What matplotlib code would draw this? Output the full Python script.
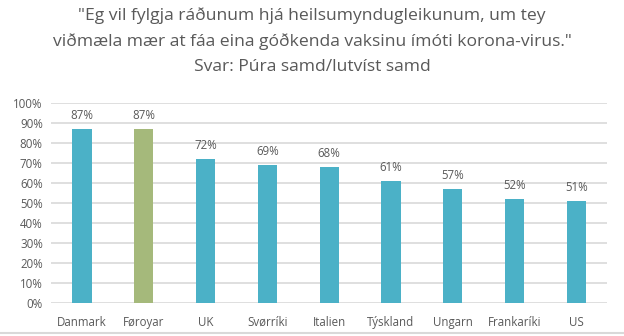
import matplotlib.pyplot as plt
import numpy as np

# Survey shares, "strongly agree / somewhat agree"
countries = ['Danmark', 'Føroyar', 'UK', 'Svørríki', 'Italien', 'Týskland', 'Ungarn', 'Frankaríki', 'US']
shares = [87, 87, 72, 69, 68, 61, 57, 52, 51]
highlight = 'Føroyar'

blue = '#4BB1C7'
green = '#A5B97B'
grey_text = '#595959'

plt.rcParams['font.family'] = ['Open Sans', 'DejaVu Sans']

fig = plt.figure(figsize=(6.24, 3.36), dpi=100)
ax = fig.add_axes([0.082, 0.098, 0.891, 0.595])

x = np.arange(len(countries))
colors = [green if c == highlight else blue for c in countries]
ax.bar(x, shares, width=0.31, color=colors, zorder=3)

for xi, v in zip(x, shares):
    ax.annotate(f'{v}%', (xi, v), xytext=(0, 5), textcoords='offset points',
                ha='center', va='bottom', fontsize=8.3, color=grey_text)

ax.set_xlim(-0.5, len(countries) - 0.5)
ax.set_ylim(0, 100)
ax.set_yticks(range(0, 101, 10))
ax.set_yticklabels([f'{t}%' for t in range(0, 101, 10)])
ax.set_xticks(x)
ax.set_xticklabels(countries)
ax.tick_params(axis='both', length=0, labelsize=8.3, colors=grey_text)
ax.tick_params(axis='x', pad=9)
ax.tick_params(axis='y', pad=6)
ax.grid(axis='y', color='#D9D9D9', linewidth=1.2, zorder=0)
for s in ax.spines.values():
    s.set_visible(False)

fig.text(0.5, 0.978,
         '"Eg vil fylgja ráðunum hjá heilsumyndugleikunum, um tey\n'
         'viðmæla mær at fáa eina góðkenda vaksinu ímóti korona-virus."\n'
         'Svar: Púra samd/lutvíst samd',
         ha='center', va='top', fontsize=12.6, color=grey_text, linespacing=1.72)

# thin frame line along the bottom edge
fig.add_artist(plt.Line2D([0, 1], [0.01, 0.01], color='#D9D9D9', linewidth=1.5))

fig.savefig('out.png', dpi=100)
